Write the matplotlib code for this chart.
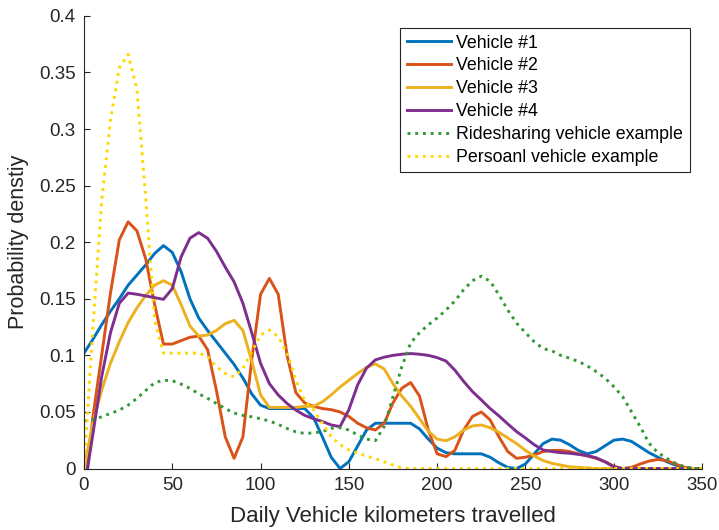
import matplotlib
matplotlib.use('Agg')
import matplotlib.pyplot as plt

plt.rcParams['font.family'] = ['Liberation Sans', 'DejaVu Sans']

# distance grid (km)
km = list(range(0, 355, 5))

vehicle_1 = [0.102, 0.114, 0.127, 0.139, 0.150, 0.162, 0.171, 0.180, 0.190, 0.197,
             0.191, 0.174, 0.150, 0.133, 0.122, 0.112, 0.102, 0.092, 0.080, 0.066,
             0.056, 0.053, 0.053, 0.053, 0.053, 0.053, 0.045, 0.028, 0.010, 0.0,
             0.006, 0.020, 0.034, 0.040, 0.040, 0.040, 0.040, 0.040, 0.035, 0.026,
             0.018, 0.014, 0.013, 0.013, 0.013, 0.013, 0.010, 0.005, 0.001, 0.0,
             0.004, 0.013, 0.022, 0.026, 0.025, 0.021, 0.016, 0.013, 0.015, 0.020,
             0.025, 0.026, 0.024, 0.019, 0.014, 0.010, 0.006, 0.003, 0.001, 0.0, 0.0]

vehicle_2 = [-0.03, 0.045, 0.100, 0.155, 0.202, 0.218, 0.210, 0.185, 0.145, 0.110,
             0.110, 0.113, 0.116, 0.117, 0.105, 0.069, 0.028, 0.009, 0.028, 0.096,
             0.154, 0.168, 0.154, 0.100, 0.067, 0.058, 0.055, 0.053, 0.052, 0.050,
             0.046, 0.040, 0.036, 0.034, 0.040, 0.058, 0.071, 0.076, 0.064, 0.034,
             0.013, 0.0105, 0.016, 0.034, 0.046, 0.050, 0.043, 0.028, 0.015, 0.009,
             0.010, 0.012, 0.015, 0.016, 0.016, 0.015, 0.013, 0.011, 0.009, 0.006,
             0.002, 0.0, 0.001, 0.004, 0.0066, 0.008, 0.007, 0.004, 0.001, 0.0, 0.0]

vehicle_3 = [0.0, 0.040, 0.069, 0.093, 0.112, 0.129, 0.142, 0.153, 0.162, 0.166,
             0.162, 0.145, 0.126, 0.117, 0.118, 0.122, 0.128, 0.131, 0.122, 0.095,
             0.065, 0.054, 0.054, 0.054, 0.054, 0.055, 0.055, 0.059, 0.065, 0.072,
             0.078, 0.084, 0.0895, 0.0925, 0.088, 0.075, 0.064, 0.055, 0.044, 0.033,
             0.026, 0.0246, 0.028, 0.034, 0.0376, 0.0385, 0.036, 0.032, 0.027, 0.022,
             0.016, 0.011, 0.007, 0.0046, 0.003, 0.0015, 0.001, 0.0005, 0.0, 0.0,
             0.0, 0.0, 0.0, 0.0, 0.0, 0.0, 0.0, 0.0, 0.0, 0.0, 0.0]

vehicle_4 = [-0.02, 0.030, 0.081, 0.120, 0.146, 0.155, 0.154, 0.1525, 0.151, 0.1495,
             0.159, 0.187, 0.2035, 0.2085, 0.2035, 0.192, 0.178, 0.165, 0.146, 0.120,
             0.093, 0.075, 0.065, 0.0575, 0.0516, 0.047, 0.044, 0.0415, 0.0385, 0.037,
             0.052, 0.074, 0.0887, 0.096, 0.0984, 0.100, 0.101, 0.1016, 0.101, 0.100,
             0.098, 0.095, 0.087, 0.077, 0.068, 0.0606, 0.053, 0.0465, 0.0394, 0.0326,
             0.027, 0.021, 0.0164, 0.015, 0.014, 0.0135, 0.0125, 0.0115, 0.0095, 0.006,
             0.0016, 0.0, 0.0, 0.0, 0.0, 0.0, 0.0, 0.0, 0.0, 0.0, 0.0]

ridesharing = [0.042, 0.043, 0.0457, 0.0487, 0.0516, 0.056, 0.062, 0.069, 0.0758, 0.078,
               0.0776, 0.0746, 0.0708, 0.066, 0.062, 0.0575, 0.053, 0.049, 0.047, 0.0457,
               0.044, 0.042, 0.039, 0.0354, 0.0324, 0.031, 0.0315, 0.0326, 0.0355, 0.036,
               0.034, 0.0296, 0.026, 0.0246, 0.037, 0.0636, 0.090, 0.111, 0.120, 0.127,
               0.133, 0.140, 0.148, 0.158, 0.166, 0.170, 0.1655, 0.1535, 0.140, 0.1285,
               0.120, 0.112, 0.106, 0.104, 0.100, 0.0975, 0.0946, 0.0907, 0.0857, 0.080,
               0.0724, 0.0636, 0.0503, 0.037, 0.0223, 0.014, 0.009, 0.0046, 0.0016, 0.0, 0.0]

personal = [0.0, 0.123, 0.236, 0.308, 0.354, 0.366, 0.335, 0.238, 0.131, 0.102,
            0.102, 0.102, 0.102, 0.102, 0.099, 0.090, 0.084, 0.081, 0.0885, 0.103,
            0.118, 0.1224, 0.1165, 0.102, 0.078, 0.060, 0.052, 0.040, 0.028, 0.021,
            0.0164, 0.0135, 0.011, 0.0087, 0.006, 0.003, 0.0007, 0.0, 0.0, 0.0,
            0.0, 0.0, 0.0, 0.0, 0.0, 0.0, 0.0, 0.0, 0.0, 0.0,
            0.0, 0.0, 0.0, 0.0, 0.0, 0.0, 0.0, 0.0, 0.0, 0.0,
            0.0, 0.0, 0.0, 0.0, 0.0, 0.0, 0.0, 0.0, 0.0, 0.0, 0.0]

labels = ['Vehicle #1', 'Vehicle #2', 'Vehicle #3', 'Vehicle #4',
          'Ridesharing vehicle example', 'Persoanl vehicle example']
x_ticks = [0, 50, 100, 150, 200, 250, 300, 350]
y_ticks = [0, 0.05, 0.1, 0.15, 0.2, 0.25, 0.3, 0.35, 0.4]
y_tick_labels = ['0', '0.05', '0.1', '0.15', '0.2', '0.25', '0.3', '0.35', '0.4']

axis_col = '#262626'

fig = plt.figure(figsize=(7.19, 5.30), dpi=100)
ax = fig.add_axes([0.1168, 0.116, 0.8596, 0.854])

solid = [('#0072BD', vehicle_1), ('#D95319', vehicle_2),
         ('#EDB120', vehicle_3), ('#7E2F8E', vehicle_4)]
for i, (c, ys) in enumerate(solid):
    ax.plot(km, ys, color=c, lw=2.1, label=labels[i])
ax.plot(km, ridesharing, color='#339933', lw=2.1, ls=':', label=labels[4])
ax.plot(km, personal, color='#FFD700', lw=2.1, ls=':', label=labels[5])

ax.set_xlim(0, 350)
ax.set_ylim(0, 0.4)
ax.set_xticks(x_ticks)
ax.set_yticks(y_ticks)
ax.set_yticklabels(y_tick_labels)

for s in ['top', 'right']:
    ax.spines[s].set_visible(False)
for s in ['left', 'bottom']:
    ax.spines[s].set_color(axis_col)
    ax.spines[s].set_linewidth(0.8)
ax.tick_params(direction='in', length=4.5, width=0.8, colors=axis_col,
               labelsize=13.5, pad=6)

ax.set_xlabel('Daily Vehicle kilometers travelled', fontsize=16, color=axis_col, labelpad=9)
ax.set_ylabel('Probability denstiy', fontsize=15.5, color=axis_col, labelpad=7)

leg = ax.legend(loc='upper right', fontsize=12.8, frameon=True, fancybox=False,
                edgecolor=axis_col, framealpha=1, handlelength=2.5,
                handletextpad=0.3, borderpad=0.35, labelspacing=0.33,
                borderaxespad=0.7)
leg.get_frame().set_linewidth(0.8)
for t in leg.get_texts():
    t.set_color('black')

fig.savefig('out.png', dpi=100)
